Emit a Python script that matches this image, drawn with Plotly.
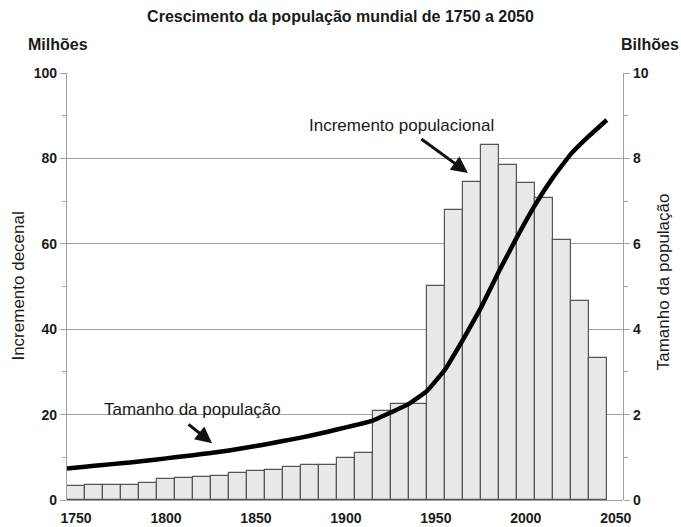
import plotly.graph_objects as go

decades = [1750, 1760, 1770, 1780, 1790, 1800, 1810, 1820, 1830, 1840,
           1850, 1860, 1870, 1880, 1890, 1900, 1910, 1920, 1930, 1940,
           1950, 1960, 1970, 1980, 1990, 2000, 2010, 2020, 2030, 2040]
increment_millions = [3.3, 3.4, 3.6, 3.6, 4.0, 5.0, 5.2, 5.5, 5.7, 6.3,
                      6.9, 7.1, 7.8, 8.3, 8.3, 9.8, 10.9, 20.9, 22.4, 22.4,
                      50.2, 68.0, 74.4, 83.1, 78.5, 74.2, 70.7, 61.0, 46.5, 33.2]

pop_years = [1745, 1755, 1765, 1775, 1785, 1795, 1805, 1815, 1825, 1835,
             1845, 1855, 1865, 1875, 1885, 1895, 1905, 1915, 1925, 1935,
             1945, 1955, 1965, 1975, 1985, 1995, 2005, 2015, 2025, 2035, 2045]
pop_billions = [0.74, 0.78, 0.82, 0.86, 0.90, 0.95, 1.00, 1.05, 1.10, 1.16,
                1.23, 1.30, 1.38, 1.46, 1.55, 1.65, 1.75, 1.86, 2.05, 2.25,
                2.55, 3.05, 3.75, 4.50, 5.35, 6.15, 6.90, 7.55, 8.10, 8.52, 8.90]

x_ticks = [1750, 1800, 1850, 1900, 1950, 2000, 2050]
y_ticks = [0, 20, 40, 60, 80, 100]
y2_ticks = [0, 2, 4, 6, 8, 10]

FONT = "Liberation Sans, Arial, sans-serif"
GRID = "#a0a0a0"
TXT = "#1a1a1a"

fig = go.Figure()
fig.add_trace(go.Bar(
    x=decades, y=increment_millions, width=10,
    marker=dict(color="#e8e8e8", line=dict(color="#555555", width=1.2)),
    showlegend=False, hoverinfo="skip"))
fig.add_trace(go.Scatter(
    x=pop_years, y=pop_billions, yaxis="y2", mode="lines",
    line=dict(color="black", width=4.5, shape="spline", smoothing=0.3),
    showlegend=False, hoverinfo="skip"))

fig.update_layout(
    width=681, height=527,
    margin=dict(l=67, r=58, t=73, b=27),
    paper_bgcolor="white", plot_bgcolor="white",
    font=dict(family=FONT, color=TXT),
    bargap=0,
    title=dict(text="<b>Crescimento da população mundial de 1750 a 2050</b>",
               x=0.5, xanchor="center", y=0.968, yanchor="middle",
               font=dict(size=16, family=FONT, color=TXT)),
    xaxis=dict(range=[1745, 2054], tickvals=x_ticks,
               ticktext=["<b>%d</b>" % v for v in x_ticks],
               tickfont=dict(size=14, family=FONT, color=TXT),
               showgrid=False, zeroline=False, showline=False, ticks="",
               ticklabelstandoff=8, automargin=False),
    yaxis=dict(range=[0, 100],
               tickvals=y_ticks,
               ticktext=["<b>%d</b>" % v for v in y_ticks],
               tickfont=dict(size=14, family=FONT, color=TXT),
               showgrid=True, gridcolor=GRID, gridwidth=1.2,
               zeroline=True, zerolinecolor=GRID, zerolinewidth=1.2,
               showline=True, linecolor=GRID, linewidth=1.2,
               ticks="outside", ticklen=6, tickcolor=GRID, tickwidth=1.2,
               automargin=False,
               minor=dict(dtick=10, ticks="outside", ticklen=4, tickcolor=GRID, showgrid=False)),
    yaxis2=dict(range=[0, 10], overlaying="y", side="right",
                tickvals=y2_ticks,
                ticktext=["<b>%d</b>" % v for v in y2_ticks],
                tickfont=dict(size=14, family=FONT, color=TXT),
                showgrid=False, zeroline=False,
                showline=True, linecolor=GRID, linewidth=1.2,
                ticks="outside", ticklen=6, tickcolor=GRID, tickwidth=1.2,
                automargin=False,
                minor=dict(dtick=1, ticks="outside", ticklen=4, tickcolor=GRID)),
)

ann = [
    dict(text="<b>Milhões</b>", xref="paper", yref="paper", x=-0.017, y=1.066,
         xanchor="center", yanchor="middle", showarrow=False,
         font=dict(size=16, family=FONT, color=TXT)),
    dict(text="<b>Bilhões</b>", xref="paper", yref="paper", x=1.049, y=1.066,
         xanchor="center", yanchor="middle", showarrow=False,
         font=dict(size=16, family=FONT, color=TXT)),
    dict(text="Incremento decenal", xref="paper", yref="paper", x=-0.088, y=0.5,
         xanchor="center", yanchor="middle", textangle=-90, showarrow=False,
         font=dict(size=17, family=FONT, color=TXT)),
    dict(text="Tamanho da população", xref="paper", yref="paper", x=1.072, y=0.51,
         xanchor="center", yanchor="middle", textangle=-90, showarrow=False,
         font=dict(size=17, family=FONT, color=TXT)),
    dict(text="Incremento populacional", xref="x", yref="y", x=1931.1, y=87.8,
         xanchor="center", yanchor="middle", showarrow=False,
         font=dict(size=17, family=FONT, color=TXT)),
    dict(text="Tamanho da população", xref="x", yref="y", x=1815, y=21.1,
         xanchor="center", yanchor="middle", showarrow=False,
         font=dict(size=17, family=FONT, color=TXT)),
    dict(text="", xref="x", yref="y", x=1967.8, y=76.6, axref="x", ayref="y",
         ax=1941.1, ay=84.8, showarrow=True, arrowhead=2, arrowsize=1.1,
         arrowwidth=3, arrowcolor="#111111"),
    dict(text="", xref="x", yref="y", x=1825.6, y=13.3, axref="x", ayref="y",
         ax=1811.7, ay=18.0, showarrow=True, arrowhead=2, arrowsize=1.1,
         arrowwidth=3, arrowcolor="#111111"),
]
fig.update_layout(annotations=ann)

fig.write_html("out.html",
               config={"displayModeBar": False},
               post_script="document.body.style.margin='0';document.body.style.padding='0';")
